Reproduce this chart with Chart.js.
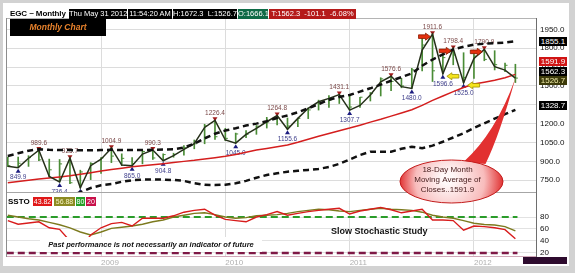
<!DOCTYPE html>
<html>
<head>
<meta charset="utf-8">
<title>EGC ~ Monthly</title>
<script src="https://cdn.jsdelivr.net/npm/chart.js@4.4.1/dist/chart.umd.min.js"></script>
<style>
  html, body { margin: 0; padding: 0; }
  body { width: 575px; height: 273px; overflow: hidden; background: #d2d2d2; position: relative;
         font-family: 'Liberation Sans', Arial, sans-serif; }
  #paper { position: absolute; left: 3px; top: 3px; width: 566px; height: 263px; background: #fff; }
  #chart { position: absolute; left: 0; top: 0; }
  .abs { position: absolute; white-space: pre; line-height: 1; }
  .seg { position: absolute; top: 9px; height: 10px; line-height: 10px; font-size: 7.5px; color: #fff;
         text-align: center; white-space: pre; }
  .vbox { position: absolute; left: 539px; width: 28px; height: 9px; line-height: 9px; font-size: 8px;
          text-align: center; }
  .lg { position: absolute; top: 197px; height: 9px; line-height: 9px; font-size: 7px; text-align: center; color: #fff; }
</style>
</head>
<body>
<div id="paper"></div>
<canvas id="chart" width="575" height="273"></canvas>

<div class="abs" style="left:10px;top:10px;font-size:8px;font-weight:bold;letter-spacing:-0.1px;">EGC ~ Monthly</div>
<div class="seg" style="left:69px;width:58px;background:#000;">Thu May 31 2012</div>
<div class="seg" style="left:128px;width:44px;background:#000;">11:54:20 AM</div>
<div class="seg" style="left:173px;width:64px;background:#000;">H:1672.3  L:1526.7</div>
<div class="seg" style="left:238px;width:30px;background:#0e6a46;">O:1666.1</div>
<div class="seg" style="left:269px;width:87px;background:#b51a1a;">T:1562.3  -101.1  -6.08%</div>

<div class="abs" style="left:10px;top:19px;width:96px;height:17px;background:#000;color:#e8822c;font-size:8.5px;font-weight:bold;font-style:italic;text-align:center;line-height:17px;">Monthly Chart</div>

<div class="vbox" style="top:37px;background:#000;color:#fff;">1855.1</div>
<div class="vbox" style="top:57px;background:#d01414;color:#fff;">1591.9</div>
<div class="vbox" style="top:66.5px;background:#000;color:#fff;">1562.3</div>
<div class="vbox" style="top:76px;background:#3c3a0a;color:#f0ecaa;">1526.7</div>
<div class="vbox" style="top:101px;background:#000;color:#fff;">1328.7</div>

<div class="abs" style="left:8px;top:198px;font-size:8px;font-weight:bold;">SSTO</div>
<div class="lg" style="left:33px;width:19px;background:#e01818;">43.82</div>
<div class="lg" style="left:54px;width:21px;background:#8c8a22;color:#f6f2c4;">56.88</div>
<div class="lg" style="left:76px;width:9px;background:#28a028;">80</div>
<div class="lg" style="left:86px;width:10px;background:#c8104a;">20</div>

<div class="abs" style="left:40px;top:237px;width:222px;height:15px;background:#fff;text-align:center;line-height:15px;font-size:7.5px;font-weight:bold;font-style:italic;color:#111;">Past performance is not necessarily an indicator of future</div>
<div class="abs" style="left:331px;top:227px;font-size:9px;font-weight:bold;color:#111;">Slow Stochastic Study</div>

<div class="abs" style="left:523px;top:257px;width:44px;height:7px;background:#2e0b2e;"></div>

<script>
// months on the chart, Apr 2008 .. May 2012
const months = [
  'Apr 2008', 'May 2008', 'Jun 2008', 'Jul 2008', 'Aug 2008', 'Sep 2008', 'Oct 2008', 'Nov 2008', 'Dec 2008',
  'Jan 2009', 'Feb 2009', 'Mar 2009', 'Apr 2009', 'May 2009', 'Jun 2009', 'Jul 2009', 'Aug 2009', 'Sep 2009', 'Oct 2009', 'Nov 2009', 'Dec 2009',
  'Jan 2010', 'Feb 2010', 'Mar 2010', 'Apr 2010', 'May 2010', 'Jun 2010', 'Jul 2010', 'Aug 2010', 'Sep 2010', 'Oct 2010', 'Nov 2010', 'Dec 2010',
  'Jan 2011', 'Feb 2011', 'Mar 2011', 'Apr 2011', 'May 2011', 'Jun 2011', 'Jul 2011', 'Aug 2011', 'Sep 2011', 'Oct 2011', 'Nov 2011', 'Dec 2011',
  'Jan 2012', 'Feb 2012', 'Mar 2012', 'Apr 2012', 'May 2012'
];

// monthly bars
const highs = [935, 935, 945, 989.6, 918, 915, 925.7, 830, 890, 930, 1004.9, 960, 930, 983, 990.3, 960, 965, 1025, 1070, 1195, 1226.4,
  1163, 1125, 1145, 1185, 1250, 1264.8, 1245, 1245, 1325, 1387, 1424, 1431.1, 1425, 1410, 1448, 1565, 1576.6, 1560, 1640, 1892,
  1911.6, 1760, 1798.4, 1764, 1765, 1790.9, 1780, 1682, 1672.3];
const lows = [858, 849.9, 860, 905, 775, 736.4, 722, 690, 755, 805, 890, 866, 865.0, 880, 915, 904.8, 933, 950, 1000, 1040, 1075,
  1065, 1045.0, 1088, 1115, 1165, 1190, 1155.6, 1175, 1240, 1308, 1330, 1360, 1307.7, 1330, 1380, 1420, 1462, 1485, 1480.0, 1620,
  1535, 1596.6, 1668, 1525.0, 1560, 1700, 1627, 1613, 1526.7];
const closes = [865, 885, 930, 912, 833, 880, 730, 816, 882, 928, 942, 924, 883, 979, 927, 954, 955, 1008, 1040, 1182, 1096,
  1083, 1118, 1115, 1180, 1213, 1245, 1181, 1242, 1309, 1357, 1386, 1421, 1332, 1410, 1439, 1556, 1536, 1500, 1628, 1825,
  1620, 1725, 1746, 1566, 1737, 1711, 1669, 1664, 1562.3];

// swing line through highs and lows
const swingLine = [862, 849.9, 925, 989.6, 780, 736.4, 925.7, 690, 866, 917, 1004.9, 871, 865.0, 958, 990.3, 904.8, 945, 995, 1040, 1170, 1226.4,
  1070, 1045.0, 1115, 1163, 1215, 1264.8, 1155.6, 1242, 1322, 1374, 1401, 1431.1, 1307.7, 1345, 1428, 1533, 1576.6, 1494, 1480.0, 1785,
  1911.6, 1596.6, 1798.4, 1525.0, 1719, 1790.9, 1653, 1626, 1562.3];

// envelope bands and 18 month moving average
const upperBand = [943, 965, 985, 996, 992, 990, 990, 988, 988, 990, 992, 990, 990, 990, 992, 994, 996, 1010, 1040, 1083, 1120,
  1145, 1163, 1185, 1200, 1220, 1245, 1265, 1290, 1322, 1355, 1390, 1412, 1428, 1455, 1481, 1510, 1541, 1570, 1600, 1660,
  1710, 1750, 1790, 1812, 1828, 1835, 1840, 1845, 1855.1];
const lowerBand = [560, 570, 580, 590, 600, 610, 625, 655, 688, 710, 720, 738, 750, 755, 755, 755, 752, 745, 726, 714, 712,
  715, 726, 745, 770, 792, 805, 818, 825, 832, 840, 855, 880, 915, 950, 977, 977, 977, 1000, 1017, 1005,
  1025, 1056, 1090, 1123, 1165, 1203, 1240, 1275, 1310];
const movingAvg = [730, 740, 750, 760, 768, 776, 785, 797, 810, 823, 835, 846, 857, 866, 874, 882, 891, 900, 908, 918, 929,
  940, 955, 972, 990, 1003, 1016, 1030, 1052, 1076, 1100, 1122, 1144, 1165, 1188, 1212, 1235, 1260, 1285, 1310, 1345,
  1385, 1420, 1455, 1487, 1515, 1530, 1545, 1565, 1591.9];

// slow stochastic
const stochK = [74, 68, 70, 72, 62, 59.5, 40, 28, 50, 62, 69, 71, 65, 78, 78, 78, 82, 88, 91, 93, 83,
  76, 74, 72, 80, 84, 89, 83, 86, 89, 91, 93, 94.5, 85, 90, 93, 96, 92, 87, 90, 93,
  75, 75, 74, 58, 65, 64, 62, 59, 43.82];
const stochD = [83, 80, 77, 75, 71, 67, 62, 55, 50, 55, 61, 63, 65, 68, 72, 75, 80, 83, 86, 87, 84,
  80, 78, 79, 82, 83, 84, 86, 89, 91, 93, 92, 90, 89, 91, 93, 94.5, 93, 92, 91, 88,
  83, 80, 78, 74, 69.5, 67.5, 66.7, 64, 56.88];
const overbought = 80;
const oversold = 20;
const levelSpan = [-0.1, 49.2];

// annotations
const swingHighIdx = [3, 6, 10, 14, 20, 26, 32, 37, 41, 43, 46];
const swingLowIdx = [1, 5, 7, 12, 15, 22, 27, 33, 39, 42, 44];
const redArrowIdx = [41, 43, 46];
const yellowArrowIdx = [42, 44];
const calloutText = ['18-Day Month', 'Moving Average of', 'Closes..1591.9'];

// axes
const yearTicks = [9, 21, 33, 45];
const priceTicks = [750, 900, 1050, 1200, 1350, 1500, 1650, 1800, 1950];
const stochTicks = [20, 40, 60, 80];

const pts = arr => arr.map((v, i) => ({ x: i, y: v }));
const level = v => levelSpan.map(x => ({ x: x, y: v }));

Chart.defaults.font.family = "'Liberation Sans', Arial, sans-serif";

// keep each dataset inside its own panel
const panelClip = {
  id: 'panelClip',
  beforeDatasetDraw(chart, args) {
    const ys = chart.scales[args.meta.yAxisID];
    const a = chart.chartArea;
    chart.ctx.save();
    chart.ctx.beginPath();
    chart.ctx.rect(a.left, ys.top, a.right - a.left, ys.bottom - ys.top);
    chart.ctx.clip();
  },
  afterDatasetDraw(chart) {
    chart.ctx.restore();
  }
};

const annotations = {
  id: 'annotations',
  beforeDatasetsDraw(chart) {
    const { ctx, chartArea: a, scales: { x, y } } = chart;
    ctx.save();
    ctx.beginPath();
    ctx.rect(a.left, y.top, a.right - a.left, y.bottom - y.top);
    ctx.clip();
    ctx.font = '6.5px ' + Chart.defaults.font.family;
    ctx.textAlign = 'center';
    ctx.textBaseline = 'middle';
    swingHighIdx.forEach(i => {
      const px = x.getPixelForValue(i), py = y.getPixelForValue(swingLine[i]);
      ctx.fillStyle = '#a01c1c';
      ctx.beginPath();
      ctx.moveTo(px - 2.5, py - 3); ctx.lineTo(px + 2.5, py - 3); ctx.lineTo(px, py + 1);
      ctx.fill();
      ctx.fillStyle = '#7a4848';
      ctx.fillText(swingLine[i].toFixed(1), px, py - 7);
    });
    swingLowIdx.forEach(i => {
      const px = x.getPixelForValue(i), py = y.getPixelForValue(swingLine[i]);
      ctx.fillStyle = '#1c1c80';
      ctx.beginPath();
      ctx.moveTo(px - 2.5, py + 5); ctx.lineTo(px + 2.5, py + 5); ctx.lineTo(px, py + 1);
      ctx.fill();
      ctx.fillStyle = '#40408c';
      ctx.fillText(swingLine[i].toFixed(1), px, py + 10);
    });
    ctx.restore();
  },
  afterDatasetsDraw(chart) {
    const { ctx, scales: { x, y } } = chart;
    ctx.save();
    ctx.lineWidth = 0.8;
    // red arrows pointing at the highs
    redArrowIdx.forEach(i => {
      const px = x.getPixelForValue(i), cy = y.getPixelForValue(swingLine[i]) + 2.5;
      const l = px - 14, r = px - 2;
      ctx.beginPath();
      ctx.moveTo(l, cy - 1.8); ctx.lineTo(r - 5, cy - 1.8); ctx.lineTo(r - 5, cy - 3.5);
      ctx.lineTo(r, cy); ctx.lineTo(r - 5, cy + 3.5); ctx.lineTo(r - 5, cy + 1.8); ctx.lineTo(l, cy + 1.8);
      ctx.closePath();
      ctx.fillStyle = '#e4300e'; ctx.fill();
      ctx.strokeStyle = '#8a1a00'; ctx.stroke();
    });
    // yellow arrows pointing at the lows
    yellowArrowIdx.forEach(i => {
      const px = x.getPixelForValue(i), cy = y.getPixelForValue(swingLine[i]) + 2.5;
      const l = px + 4, r = px + 16;
      ctx.beginPath();
      ctx.moveTo(r, cy - 1.8); ctx.lineTo(l + 5, cy - 1.8); ctx.lineTo(l + 5, cy - 3.5);
      ctx.lineTo(l, cy); ctx.lineTo(l + 5, cy + 3.5); ctx.lineTo(l + 5, cy + 1.8); ctx.lineTo(r, cy + 1.8);
      ctx.closePath();
      ctx.fillStyle = '#f4e41c'; ctx.fill();
      ctx.strokeStyle = '#a09000'; ctx.stroke();
    });
    ctx.restore();
  },
  afterDraw(chart) {
    const { ctx, chartArea: a, scales: { x, y } } = chart;
    ctx.save();
    // panel frame
    ctx.lineWidth = 1;
    ctx.strokeStyle = '#b4b4b4';
    ctx.beginPath(); ctx.moveTo(a.left, a.top + 0.5); ctx.lineTo(a.right, a.top + 0.5); ctx.stroke();
    ctx.strokeStyle = '#a6a6a6';
    ctx.beginPath(); ctx.moveTo(a.left, Math.round(y.bottom) + 0.5); ctx.lineTo(a.right, Math.round(y.bottom) + 0.5); ctx.stroke();
    ctx.strokeStyle = '#d0a8b8';
    ctx.beginPath(); ctx.moveTo(a.left, a.bottom - 0.5); ctx.lineTo(a.right, a.bottom - 0.5); ctx.stroke();
    ctx.strokeStyle = '#8c8c8c';
    ctx.beginPath(); ctx.moveTo(a.left + 0.5, a.top); ctx.lineTo(a.left + 0.5, a.bottom); ctx.stroke();
    ctx.strokeStyle = '#6e6e6e';
    ctx.beginPath(); ctx.moveTo(a.right + 0.5, a.top); ctx.lineTo(a.right + 0.5, a.bottom); ctx.stroke();

    // callout for the moving average
    const last = movingAvg.length - 1;
    const tipX = x.getPixelForValue(last), tipY = y.getPixelForValue(movingAvg[last]) + 4;
    const cx = 451.5, cy = 181.5, rx = 51.5, ry = 21.5;
    ctx.beginPath();
    ctx.moveTo(cx + 12, cy - ry + 2);
    ctx.quadraticCurveTo(cx + 44, cy - 48, tipX, tipY);
    ctx.quadraticCurveTo(cx + 48, cy - 46, cx + 34, cy - ry + 4);
    ctx.closePath();
    ctx.fillStyle = '#e23030';
    ctx.fill();
    const g = ctx.createRadialGradient(cx - 4, cy - 3, 6, cx, cy, rx + 2);
    g.addColorStop(0, '#fff8f8');
    g.addColorStop(0.6, '#f8bcbc');
    g.addColorStop(1, '#de2424');
    ctx.beginPath();
    ctx.ellipse(cx, cy, rx, ry, 0, 0, Math.PI * 2);
    ctx.fillStyle = g;
    ctx.fill();
    ctx.strokeStyle = '#c21a1a';
    ctx.stroke();
    ctx.fillStyle = '#4a2020';
    ctx.font = '8px ' + Chart.defaults.font.family;
    ctx.textAlign = 'center';
    ctx.textBaseline = 'middle';
    calloutText.forEach((t, k) => ctx.fillText(t, cx - 4, 170 + k * 9.8));
    ctx.restore();
  }
};

new Chart(document.getElementById('chart'), {
  type: 'line',
  data: {
    datasets: [
      { type: 'bar', label: 'Range', data: months.map((m, i) => ({ x: i, y: [lows[i], highs[i]] })),
        backgroundColor: '#4a8c36', barThickness: 1, yAxisID: 'y', order: 10 },
      { label: 'Close', data: pts(closes), showLine: false, pointStyle: 'dash', pointRadius: 2.5,
        pointBorderColor: '#4a8c36', pointBorderWidth: 1, yAxisID: 'y', order: 9 },
      { label: '18 Month MA', data: pts(movingAvg), borderColor: '#d41e1e', borderWidth: 1.5,
        pointRadius: 0, yAxisID: 'y', order: 7 },
      { label: 'Swing', data: pts(swingLine), borderColor: '#26301a', borderWidth: 1.5,
        pointRadius: 0, yAxisID: 'y', order: 5 },
      { label: 'Upper', data: pts(upperBand), borderColor: '#111', borderWidth: 2.5, borderDash: [6, 4],
        pointRadius: 0, yAxisID: 'y', order: 3 },
      { label: 'Lower', data: pts(lowerBand), borderColor: '#111', borderWidth: 2.5, borderDash: [6, 4],
        pointRadius: 0, yAxisID: 'y', order: 3 },
      { label: '%K', data: pts(stochK), borderColor: '#d81c1c', borderWidth: 1.4,
        pointRadius: 0, yAxisID: 'ys', order: 2 },
      { label: '%D', data: pts(stochD), borderColor: '#7c7a1e', borderWidth: 1.4,
        pointRadius: 0, yAxisID: 'ys', order: 3 },
      { label: '80', data: level(overbought), borderColor: '#2a9c2a', borderWidth: 2, borderDash: [7, 4],
        pointRadius: 0, yAxisID: 'ys', order: 6 },
      { label: '20', data: level(oversold), borderColor: '#7e1846', borderWidth: 2.5, borderDash: [7, 4],
        pointRadius: 0, yAxisID: 'ys', order: 6 }
    ]
  },
  options: {
    responsive: false,
    animation: false,
    devicePixelRatio: 1,
    layout: { padding: { top: 18, left: 6, right: 0, bottom: 0 } },
    plugins: { legend: { display: false }, tooltip: { enabled: false } },
    scales: {
      x: {
        type: 'linear', min: -0.174, max: 50.99, offset: false,
        afterBuildTicks: s => { s.ticks = yearTicks.map(v => ({ value: v })); },
        afterFit: s => { s.height = 16; },
        grid: { color: '#dcdcdc', drawTicks: false, offset: false },
        border: { display: false },
        ticks: { align: 'start', autoSkip: false, maxRotation: 0, padding: 1, color: '#b0b0b0',
                 font: { size: 8 }, callback: v => months[v].slice(4) }
      },
      y: {
        type: 'linear', position: 'right', stack: 'panels', stackWeight: 174,
        min: 656.5, max: 2040,
        afterBuildTicks: s => { s.ticks = priceTicks.map(v => ({ value: v })); },
        afterFit: s => { s.width = 39; },
        grid: { color: '#dcdcdc', drawTicks: false },
        border: { display: false },
        ticks: { padding: 4, autoSkip: false, color: '#111', font: { size: 8 }, callback: v => v.toFixed(1) }
      },
      ys: {
        type: 'linear', position: 'right', stack: 'panels', stackWeight: 65,
        min: 13.33, max: 121.67,
        afterBuildTicks: s => { s.ticks = stochTicks.map(v => ({ value: v })); },
        afterFit: s => { s.width = 39; },
        grid: { color: '#e2e2e2', drawTicks: false },
        border: { display: false },
        ticks: { padding: 4, autoSkip: false, color: '#111', font: { size: 8 }, callback: v => String(v) }
      }
    }
  },
  plugins: [panelClip, annotations]
});
</script>
</body>
</html>
